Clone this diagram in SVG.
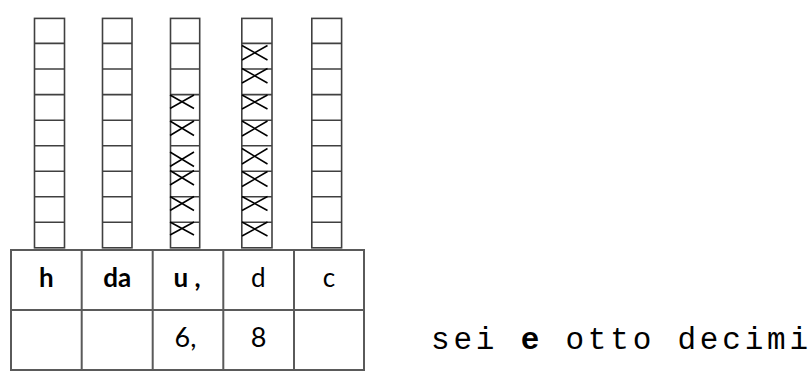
<svg xmlns="http://www.w3.org/2000/svg" width="811" height="372" viewBox="0 0 811 372">
<defs>
<style>
.col{fill:#ffffff;stroke:#404040;stroke-width:1.6}
.div{stroke:#404040;stroke-width:1.6}
.x{stroke:#000000;stroke-width:1.5;fill:none}
.tbl{fill:#ffffff;stroke:#5a5a5a;stroke-width:2}
.tl{stroke:#5a5a5a;stroke-width:2}
.hb{font-family:Lato,"Liberation Sans",sans-serif;font-weight:bold;font-size:26px;fill:#000;text-anchor:middle}
.hn{font-family:Lato,"Liberation Sans",sans-serif;font-size:26px;fill:#000;text-anchor:middle}
.num{font-family:Lato,"Liberation Sans",sans-serif;font-size:27px;fill:#000;text-anchor:middle}
.mono{font-family:"Liberation Mono","Courier New",monospace;font-size:31px;letter-spacing:3.8px;fill:#000}
</style>
</defs>
<rect width="811" height="372" fill="#ffffff"/>

<g id="col-h">
<rect class="col" x="34.5" y="18.4" width="30" height="229.4"/>
<path class="div" d="M34.5 43.4H64.5M34.5 69H64.5M34.5 94.6H64.5M34.5 120.2H64.5M34.5 145.8H64.5M34.5 171.3H64.5M34.5 196.8H64.5M34.5 222.3H64.5"/>
</g>
<g id="col-da">
<rect class="col" x="102.5" y="18.4" width="29.5" height="229.4"/>
<path class="div" d="M102.5 43.4H132M102.5 69H132M102.5 94.6H132M102.5 120.2H132M102.5 145.8H132M102.5 171.3H132M102.5 196.8H132M102.5 222.3H132"/>
</g>
<g id="col-u">
<rect class="col" x="170.5" y="18.4" width="29.2" height="229.4"/>
<path class="div" d="M170.5 43.4H199.7M170.5 69H199.7M170.5 94.6H199.7M170.5 120.2H199.7M170.5 145.8H199.7M170.5 171.3H199.7M170.5 196.8H199.7M170.5 222.3H199.7"/>
<path class="x" d="M170 95L194 108.5M170 108.5L194 95M170 121L194 135.5M170 135.5L194 121M170 152L194 166.5M170 166.5L194 152M170 170.5L194 185M170 185L194 170.5M170 196.5L194 210.5M170 210.5L194 196.5M170 222L194 235M170 235L194 222"/>
</g>
<g id="col-d">
<rect class="col" x="241.8" y="18.4" width="30.2" height="229.4"/>
<path class="div" d="M241.8 43.4H272M241.8 69H272M241.8 94.6H272M241.8 120.2H272M241.8 145.8H272M241.8 171.3H272M241.8 196.8H272M241.8 222.3H272"/>
<path class="x" d="M242 45.5L267.5 60M242 60L267.5 45.5M242 68.5L267.5 83M242 83L267.5 68.5M242 95L267.5 109M242 109L267.5 95M242 121L267.5 136M242 136L267.5 121M242 148.5L267.5 164M242 164L267.5 148.5M242 171.5L267.5 186.5M242 186.5L267.5 171.5M242 196.5L267.5 210.5M242 210.5L267.5 196.5M242 222L267.5 236M242 236L267.5 222"/>
</g>
<g id="col-c">
<rect class="col" x="311.8" y="18.4" width="29.8" height="229.4"/>
<path class="div" d="M311.8 43.4H341.6M311.8 69H341.6M311.8 94.6H341.6M311.8 120.2H341.6M311.8 145.8H341.6M311.8 171.3H341.6M311.8 196.8H341.6M311.8 222.3H341.6"/>
</g>

<g id="table">
<rect class="tbl" x="11" y="250" width="353" height="120"/>
<path class="tl" d="M11 310H364M81.7 250V370M152.7 250V370M223.3 250V370M294 250V370"/>
<text class="hb" x="46.3" y="287">h</text>
<text class="hb" x="117.2" y="287">da</text>
<text class="hb" x="173.5" y="287" style="text-anchor:start">u <tspan x="194.5">,</tspan></text>
<text class="hn" x="258.3" y="287">d</text>
<text class="hn" x="329" y="287">c</text>
<text class="num" x="185.5" y="347">6,</text>
<text class="num" x="258.5" y="347">8</text>
</g>

<g id="caption">
<text class="mono" x="431" y="348.5">sei <tspan font-weight="bold">e</tspan> otto decimi</text>
</g>
</svg>
